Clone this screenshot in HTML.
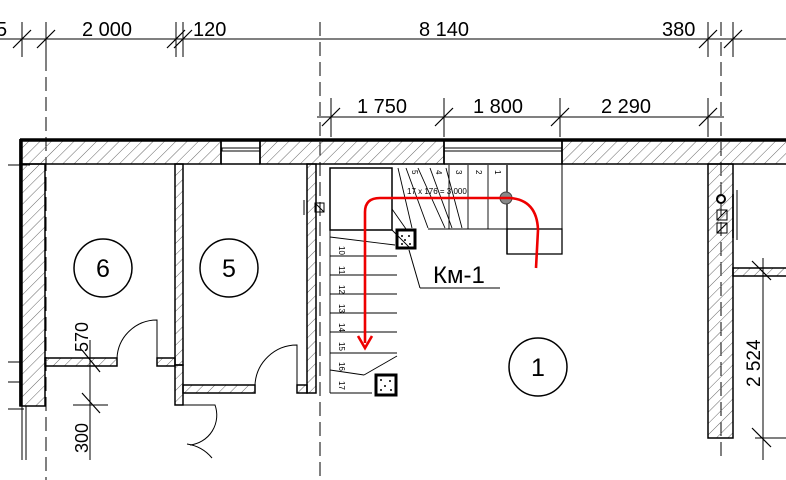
<!DOCTYPE html>
<html><head><style>html,body{margin:0;padding:0;background:#fff}svg{display:block}</style></head>
<body>
<svg width="786" height="480" viewBox="0 0 786 480" xmlns="http://www.w3.org/2000/svg" font-family="Liberation Sans, sans-serif">
<defs>
<pattern id="h" width="8" height="8" patternUnits="userSpaceOnUse" patternTransform="rotate(45)">
<line x1="0" y1="0" x2="0" y2="8" stroke="#666" stroke-width="1"/>
</pattern>
</defs>
<g stroke="#000" fill="none" stroke-width="1">
<line x1="0" y1="39" x2="786" y2="39"/>
<line x1="22" y1="22" x2="22" y2="57"/><line x1="46" y1="22" x2="46" y2="57"/>
<line x1="176" y1="22" x2="176" y2="57"/><line x1="183" y1="22" x2="183" y2="57"/>
<line x1="708" y1="22" x2="708" y2="57"/><line x1="733" y1="22" x2="733" y2="57"/>
<g stroke-width="1.2">
<line x1="13" y1="48" x2="31" y2="30"/><line x1="37" y1="48" x2="55" y2="30"/>
<line x1="167" y1="48" x2="185" y2="30"/><line x1="174" y1="48" x2="192" y2="30"/>
<line x1="699" y1="48" x2="717" y2="30"/><line x1="724" y1="48" x2="742" y2="30"/>
</g>
<line x1="46" y1="57" x2="46" y2="480" stroke-dasharray="14,6"/>
<line x1="320" y1="22" x2="320" y2="480" stroke-dasharray="14,6"/>
<line x1="721" y1="22" x2="721" y2="460" stroke-dasharray="14,6"/>
<line x1="8" y1="165" x2="30" y2="165"/>
<line x1="317" y1="117" x2="724" y2="117"/>
<line x1="331" y1="98" x2="331" y2="137"/><line x1="444" y1="98" x2="444" y2="137"/>
<line x1="560" y1="98" x2="560" y2="137"/><line x1="708" y1="98" x2="708" y2="137"/>
<g stroke-width="1.2">
<line x1="322" y1="126" x2="340" y2="108"/><line x1="435" y1="126" x2="453" y2="108"/>
<line x1="551" y1="126" x2="569" y2="108"/><line x1="699" y1="126" x2="717" y2="108"/>
</g>
</g>
<g font-size="20" fill="#000">
<text x="82" y="36">2 000</text><text x="193" y="36">120</text>
<text x="-4" y="36">5</text>
<text x="419" y="36">8 140</text><text x="662" y="36">380</text>
<text x="357" y="113">1 750</text><text x="473" y="113">1 800</text><text x="601" y="113">2 290</text>
</g>
<g fill="url(#h)" stroke="#000" stroke-width="1.5">
<rect x="20" y="140" width="201" height="24"/>
<rect x="260" y="140" width="184" height="24"/>
<rect x="562" y="140" width="230" height="24"/>
<rect x="20" y="164" width="25" height="242"/>
<rect x="175" y="164" width="8" height="201"/>
<rect x="175" y="365" width="8" height="40"/>
<rect x="307" y="164" width="9" height="229"/>
<rect x="708" y="164" width="25" height="274"/>
<rect x="733" y="268" width="60" height="8"/>
<rect x="45" y="358" width="72" height="8"/>
<rect x="157" y="358" width="18" height="8"/>
<rect x="183" y="385" width="72" height="8"/>
<rect x="297" y="385" width="10" height="8"/>
</g>
<g stroke="#000" fill="none">
<line x1="20" y1="140" x2="786" y2="140" stroke-width="3.5"/>
<line x1="21" y1="139" x2="21" y2="406" stroke-width="3.5"/>
<line x1="221" y1="140" x2="221" y2="164" stroke-width="1.5"/>
<line x1="260" y1="140" x2="260" y2="164" stroke-width="1.5"/>
<line x1="221" y1="164" x2="260" y2="164" stroke-width="1.5"/>
<rect x="222" y="148" width="38" height="3"/>
<line x1="444" y1="164" x2="562" y2="164" stroke-width="1.5"/>
<line x1="444" y1="148" x2="562" y2="148"/><line x1="444" y1="151" x2="562" y2="151"/>
<line x1="444" y1="140" x2="444" y2="164" stroke-width="1.5"/>
<line x1="562" y1="140" x2="562" y2="164" stroke-width="1.5"/>
<line x1="8" y1="362" x2="20" y2="362"/><line x1="8" y1="382" x2="20" y2="382"/><line x1="8" y1="409" x2="24" y2="409"/>
<line x1="22" y1="406" x2="22" y2="460"/><line x1="26" y1="406" x2="26" y2="460"/>
<path d="M117 358 A40 40 0 0 1 157 320 L157 358"/>
<path d="M255 385 A42 42 0 0 1 297 345 L297 385"/>
<path d="M183 405 L215 405 A30 30 0 0 1 190 445"/>
<path d="M187 444 A40 40 0 0 1 212 458"/>
<line x1="90" y1="340" x2="90" y2="460"/>
<line x1="73" y1="405" x2="108" y2="405"/>
<line x1="82" y1="350" x2="100" y2="372" stroke-width="1.2"/>
<line x1="82" y1="393" x2="100" y2="413" stroke-width="1.2"/>
<rect x="330" y="168" width="62" height="62" stroke-width="1.5"/>
<line x1="316" y1="168" x2="316" y2="393"/>
<rect x="315" y="203" width="9" height="9"/><line x1="315" y1="203" x2="324" y2="212"/>
<line x1="304" y1="200" x2="304" y2="215"/>
<g stroke-width="0.9">
<line x1="330" y1="237" x2="395" y2="245"/>
<line x1="330" y1="256" x2="397" y2="256"/>
<line x1="330" y1="275" x2="397" y2="275"/>
<line x1="330" y1="294" x2="397" y2="294"/>
<line x1="330" y1="313" x2="397" y2="313"/>
<line x1="330" y1="332" x2="397" y2="332"/>
<line x1="330" y1="353" x2="397" y2="353"/>
<line x1="330" y1="370" x2="364" y2="375"/><line x1="364" y1="375" x2="397" y2="356"/>
<line x1="330" y1="393" x2="372" y2="393"/>
<line x1="330" y1="230" x2="330" y2="393"/>
<line x1="392" y1="230" x2="410" y2="248"/>
<line x1="392" y1="209" x2="406" y2="229"/>
<line x1="398" y1="168" x2="412" y2="228"/>
<line x1="406" y1="168" x2="428" y2="228"/>
<line x1="418" y1="168" x2="445" y2="228"/>
<line x1="430" y1="168" x2="452" y2="228"/>
<line x1="446" y1="168" x2="462" y2="228"/>
<line x1="449" y1="165" x2="449" y2="229"/>
<line x1="468" y1="165" x2="468" y2="229"/>
<line x1="488" y1="165" x2="488" y2="229"/>
<line x1="428" y1="229" x2="507" y2="229"/>
</g>
<line x1="507" y1="165" x2="507" y2="254" stroke-width="1.3"/>
<rect x="507" y="229" width="55" height="25" stroke-width="1.3"/>
<line x1="562" y1="164" x2="562" y2="229"/>
<circle cx="721" cy="199" r="4" stroke-width="2"/>
<rect x="717" y="210" width="10" height="10"/><line x1="717" y1="220" x2="727" y2="210"/>
<rect x="717" y="223" width="10" height="10"/><line x1="717" y1="233" x2="727" y2="223"/>
<line x1="733" y1="194" x2="733" y2="238" stroke-width="1.5"/>
<line x1="737" y1="190" x2="737" y2="240"/>
<line x1="763" y1="258" x2="763" y2="460"/>
<line x1="752" y1="261" x2="771" y2="280" stroke-width="1.2"/>
<line x1="752" y1="428" x2="771" y2="447" stroke-width="1.2"/>
<line x1="755" y1="438" x2="786" y2="438"/>
<rect x="397" y="230" width="18" height="18" stroke-width="3"/>
<rect x="376" y="375" width="20" height="20" stroke-width="3"/>
<line x1="409" y1="250" x2="420" y2="288"/><line x1="420" y1="288" x2="500" y2="288"/>
<circle cx="103" cy="268" r="29" stroke-width="1.5"/>
<circle cx="229" cy="268" r="29" stroke-width="1.5"/>
<circle cx="538" cy="367" r="29" stroke-width="1.5"/>
</g>
<g fill="#000" font-size="8">
<text transform="translate(339,246) rotate(90)">10</text>
<text transform="translate(339,266) rotate(90)">11</text>
<text transform="translate(339,285) rotate(90)">12</text>
<text transform="translate(339,304) rotate(90)">13</text>
<text transform="translate(339,323) rotate(90)">14</text>
<text transform="translate(339,342) rotate(90)">15</text>
<text transform="translate(339,362) rotate(90)">16</text>
<text transform="translate(339,381) rotate(90)">17</text>
<text transform="translate(412,170) rotate(90)">5</text>
<text transform="translate(436,170) rotate(90)">4</text>
<text transform="translate(456,170) rotate(90)">3</text>
<text transform="translate(476,170) rotate(90)">2</text>
<text transform="translate(495,170) rotate(90)">1</text>
<text x="407" y="194" font-size="8">17 x 176 = 3 000</text>
</g>
<g fill="#000">
<text x="433" y="283" font-size="24">Км-1</text>
<text x="103" y="277" font-size="25" text-anchor="middle">6</text>
<text x="229" y="277" font-size="25" text-anchor="middle">5</text>
<text x="538" y="376" font-size="25" text-anchor="middle">1</text>
<text transform="translate(88,352) rotate(-90)" font-size="18">570</text>
<text transform="translate(88,453) rotate(-90)" font-size="18">300</text>
<text transform="translate(760,387) rotate(-90)" font-size="19">2 524</text>
</g>
<g fill="#000"><circle cx="402" cy="236" r="1"/><circle cx="409" cy="236" r="1"/><circle cx="405" cy="240" r="1"/><circle cx="402" cy="244" r="1"/><circle cx="410" cy="244" r="1"/>
<circle cx="381" cy="380" r="1"/><circle cx="390" cy="381" r="1"/><circle cx="385" cy="386" r="1"/><circle cx="381" cy="390" r="1"/><circle cx="391" cy="390" r="1"/></g>
<circle cx="506" cy="198" r="6" fill="#888" stroke="#444"/>
<path d="M365 343 L365 212 Q365 198 380 198 L510 198 Q537 200 538 230 L536 268" fill="none" stroke="#e00" stroke-width="2.6"/>
<path d="M358 336 L365 348 L372 336" fill="none" stroke="#e00" stroke-width="2.6"/>
</svg>
</body></html>
